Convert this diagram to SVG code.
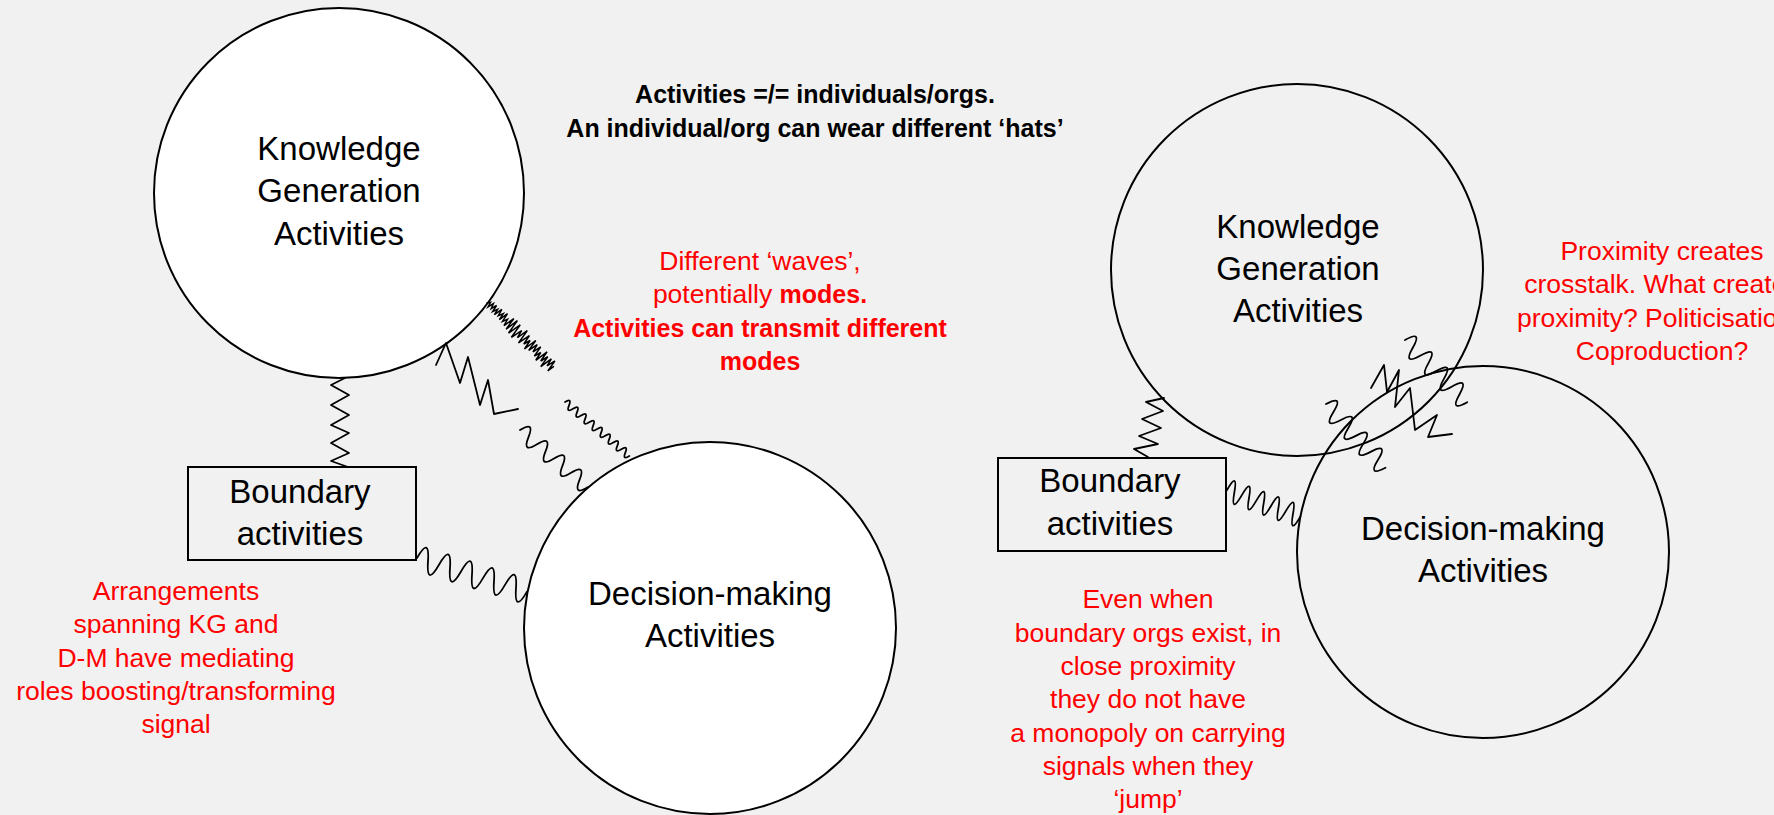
<svg xmlns="http://www.w3.org/2000/svg" width="1774" height="815" viewBox="0 0 1774 815">
<style>
.bg{fill:#f1f1f1}
.node{stroke:#000;stroke-width:2}
.white{fill:#fff}
.clear{fill:none}
.lbl{font-family:"Liberation Sans",Arial,sans-serif;font-size:33px;fill:#000;text-anchor:middle}
.note{font-family:"Liberation Sans",Arial,sans-serif;font-size:26.5px;fill:#ff0000;text-anchor:middle}
.b{font-weight:bold;font-size:25px}
.top{font-family:"Liberation Sans",Arial,sans-serif;font-size:25px;font-weight:bold;fill:#000;text-anchor:middle}
.w{fill:none;stroke:#000;stroke-width:1.8;stroke-linejoin:round;stroke-linecap:round}
.dense{stroke-width:1.5;stroke-linejoin:miter}
</style>
<rect class="bg" x="0" y="0" width="1774" height="815"/>

<!-- Left diagram nodes -->
<g id="kg-left">
<circle class="node white" cx="339" cy="193" r="185"/>
<text class="lbl" x="339" y="160">Knowledge</text>
<text class="lbl" x="339" y="202">Generation</text>
<text class="lbl" x="339" y="245">Activities</text>
</g>
<g id="dm-left">
<circle class="node white" cx="710" cy="628" r="186"/>
<text class="lbl" x="710" y="605">Decision-making</text>
<text class="lbl" x="710" y="647">Activities</text>
</g>
<g id="boundary-left">
<rect class="node clear" x="188" y="467" width="228" height="93"/>
<text class="lbl" x="300" y="503">Boundary</text>
<text class="lbl" x="300" y="545">activities</text>
</g>

<!-- Right diagram nodes -->
<g id="kg-right">
<circle class="node clear" cx="1297" cy="270" r="186"/>
<text class="lbl" x="1298" y="238">Knowledge</text>
<text class="lbl" x="1298" y="280">Generation</text>
<text class="lbl" x="1298" y="322">Activities</text>
</g>
<g id="dm-right">
<circle class="node clear" cx="1483" cy="552" r="186"/>
<text class="lbl" x="1483" y="540">Decision-making</text>
<text class="lbl" x="1483" y="582">Activities</text>
</g>
<g id="boundary-right">
<rect class="node clear" x="998" y="458" width="228" height="93"/>
<text class="lbl" x="1110" y="492">Boundary</text>
<text class="lbl" x="1110" y="535">activities</text>
</g>

<!-- Connectors -->
<g id="connectors">
<!-- left: KG to boundary zigzag -->
<path class="w" d="M345,378 L331,385 L349,395 L331,405 L349,415 L331,425 L349,433 L331,443 L349,453 L331,461 L348,467"/>
<!-- left: dense noisy signal KG to DM -->
<path class="w dense" transform="translate(487,303) rotate(45)" d="M0,0 L2,-3 L3.5,2 L5,-4 L7,1 L8.5,-5 L10,2 L12,-3 L13.5,3 L15,-6 L17,1 L19,-4 L20.5,3 L22,-7 L24,2 L26,-3 L28,4 L30,-8 L32,5 L34,-9 L36.5,6 L39,-8 L41.5,7 L44,-5 L46,3 L48,-9 L50.5,6 L53,-7 L55,3 L57,-4 L59,6 L61,-8 L63,4 L65,-6 L67,2 L69,-7 L71,4 L73,-3 L75,6 L77,-8 L79,3 L81,-5 L83,7 L85,-6 L87,2 L89,-7 L91,5 L92,-2"/>
<!-- left: big zigzag -->
<path class="w" d="M436,365 L446,343 L460,383 L468,357 L480,405 L488,380 L494,414 L518,409"/>
<!-- left: medium wave -->
<path class="w" transform="translate(520,430) rotate(40)" d="M0,0 q5.55,-17 11.1,0 t11.1,0 t11.1,0 t11.1,0 t11.1,0 t11.1,0 t11.1,0 t11.1,0"/>
<!-- left: fine wave -->
<path class="w" transform="translate(565,402) rotate(40)" d="M0,0 q2.6,-8 5.25,0 t5.25,0 t5.25,0 t5.25,0 t5.25,0 t5.25,0 t5.25,0 t5.25,0 t5.25,0 t5.25,0 t5.25,0 t5.25,0 t5.25,0 t5.25,0 t5.25,0 t5.25,0"/>
<!-- left: boundary to DM wave -->
<path class="w" transform="translate(417,558) rotate(17)" d="M0,0 q5.75,-25 11.5,0 t11.5,0 t11.5,0 t11.5,0 t11.5,0 t11.5,0 t11.5,0 t11.5,0 t11.5,0 t11.5,0"/>

<!-- right: KG to boundary zigzag -->
<path class="w" d="M1164,398 L1146,402 L1163,411 L1142,419 L1161,428 L1139,436 L1158,444 L1134,449 L1148,457"/>
<!-- right: boundary to DM wave -->
<path class="w" transform="translate(1227,490) rotate(20)" d="M0,0 q3.9,-22 7.8,0 t7.8,0 t7.8,0 t7.8,0 t7.8,0 t7.8,0 t7.8,0 t7.8,0 t7.8,0 t7.8,0"/>
<!-- right: overlap wave A -->
<path class="w" transform="translate(1405,340) rotate(45)" d="M0,0 q5.5,-20 11,0 t11,0 t11,0 t11,0 t11,0 t11,0 t11,0 t11,0"/>
<!-- right: overlap zigzag B -->
<path class="w" d="M1371,388 L1384,365 L1387,392 L1399,370 L1395,407 L1410,388 L1415,430 L1437,415 L1428,437 L1452,434"/>
<!-- right: overlap wave C -->
<path class="w" transform="translate(1326,404) rotate(47)" d="M0,0 q5.45,-20 10.9,0 t10.9,0 t10.9,0 t10.9,0 t10.9,0 t10.9,0 t10.9,0 t10.9,0"/>
</g>

<!-- Annotations -->
<g id="note-top">
<text class="top" x="815" y="103">Activities =/= individuals/orgs.</text>
<text class="top" x="815" y="137">An individual/org can wear different ‘hats’</text>
</g>
<g id="note-waves">
<text class="note" x="760" y="270">Different ‘waves’,</text>
<text class="note" x="760" y="303">potentially <tspan class="b">modes.</tspan></text>
<text class="note b" x="760" y="337">Activities can transmit different</text>
<text class="note b" x="760" y="370">modes</text>
</g>
<g id="note-arrangements">
<text class="note" x="176" y="600">Arrangements</text>
<text class="note" x="176" y="633">spanning KG and</text>
<text class="note" x="176" y="667">D-M have mediating</text>
<text class="note" x="176" y="700">roles boosting/transforming</text>
<text class="note" x="176" y="733">signal</text>
</g>
<g id="note-proximity">
<text class="note" x="1662" y="260">Proximity creates</text>
<text class="note" x="1662" y="293">crosstalk. What creates</text>
<text class="note" x="1662" y="327">proximity? Politicisation?</text>
<text class="note" x="1662" y="360">Coproduction?</text>
</g>
<g id="note-even">
<text class="note" x="1148" y="608">Even when</text>
<text class="note" x="1148" y="642">boundary orgs exist, in</text>
<text class="note" x="1148" y="675">close proximity</text>
<text class="note" x="1148" y="708">they do not have</text>
<text class="note" x="1148" y="742">a monopoly on carrying</text>
<text class="note" x="1148" y="775">signals when they</text>
<text class="note" x="1148" y="808">‘jump’</text>
</g>
</svg>
